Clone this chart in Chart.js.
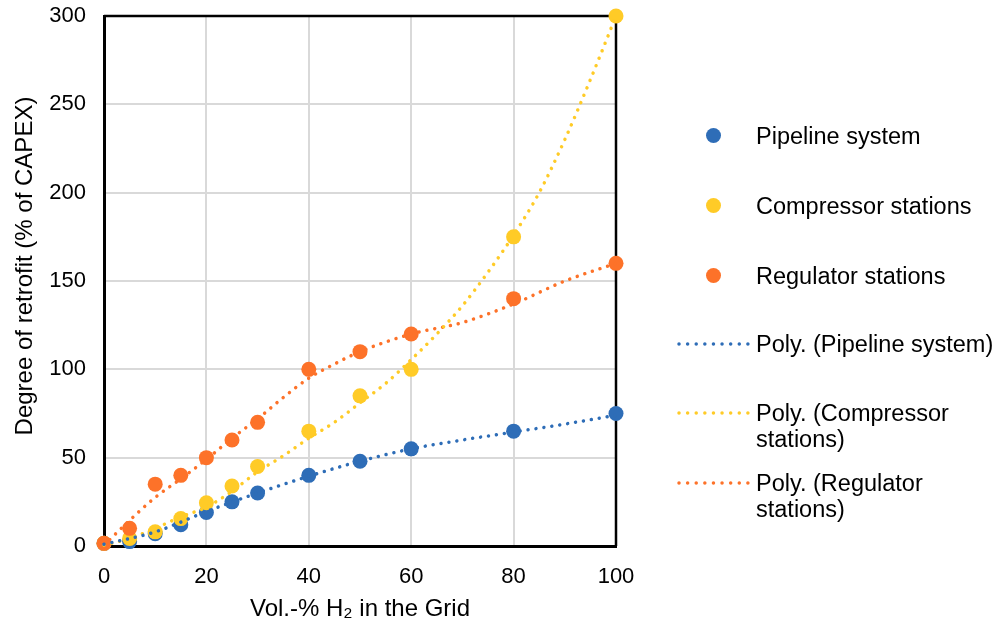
<!DOCTYPE html>
<html>
<head>
<meta charset="utf-8">
<title>Degree of retrofit vs. H2 share</title>
<script src="https://cdn.jsdelivr.net/npm/chart.js@4.4.1/dist/chart.umd.min.js"></script>
<style>
  body { margin: 0; background: #fff; }
  #wrap { position: relative; width: 1000px; height: 626px; }
  #legend { position: absolute; left: 0; top: 0; font-family: "Liberation Sans", Arial, sans-serif; font-size: 23.5px; color: #000; }
  .item { position: absolute; left: 676px; width: 324px; line-height: 26px; }
  .item .dot { position: absolute; left: 30px; top: 5px; width: 15px; height: 15px; border-radius: 50%; }
  .item svg { position: absolute; left: 0; top: 0; }
  .item .txt { position: absolute; left: 80px; top: 0; width: 244px; }
  #ytitle { position: absolute; left: -176px; top: 251px; width: 400px; height: 30px; line-height: 30px;
            text-align: center; transform: rotate(-90deg); white-space: nowrap;
            font-family: "Liberation Sans", Arial, sans-serif; font-size: 24px; color: #000; }
</style>
</head>
<body>
<div id="wrap">
  <canvas id="myChart" width="1000" height="626"></canvas>
  <div id="ytitle">Degree of retrofit (% of CAPEX)</div>
  <div id="legend"></div>
</div>
<script>
// measured values, x = vol.-% H2
var xValues = [0, 5, 10, 15, 20, 25, 30, 40, 50, 60, 80, 100];
var pipeline = [1.5, 2.5, 7, 12, 19, 25, 30, 40, 48, 55, 65, 75];
var compressor = [1.5, 4.3, 8, 15.5, 24.5, 34, 45, 65, 85, 100, 175, 300];
var regulator = [1.5, 10, 35, 40, 50, 60, 70, 100, 110, 120, 140, 160];

// polynomial trendlines
var pipelineTrendX = [0, 10, 20, 30, 40, 50, 60, 70, 80, 90, 100];
var pipelineTrend = [1, 8, 19.5, 30, 39.5, 48, 55, 60, 64.5, 69, 74];
var compressorTrendX = [0, 5, 10, 15, 20, 25, 30, 35, 40, 45, 50, 55, 60, 65, 70, 75, 80, 85, 90, 95, 100];
var compressorTrend = [0.5, 4.3, 10, 16.5, 22, 31, 42, 51, 61, 70, 81, 92, 105.5, 120, 136, 155, 176, 200, 230, 264, 300];
var regulatorTrendX = [0, 5, 10, 15, 20, 25, 30, 35, 40, 45, 50, 60, 70, 80, 90, 100];
var regulatorTrend = [0.5, 14.5, 27.5, 38, 49, 61, 72, 84, 95, 103, 110, 120, 126.5, 137, 150, 160];

var seriesNames = ["Pipeline system", "Compressor stations", "Regulator stations"];
var seriesColors = ["#2e6db7", "#ffcb27", "#fd7229"];
var yTicks = [0, 50, 100, 150, 200, 250, 300];
var xTicks = [0, 20, 40, 60, 80, 100];

function pts(xs, ys) {
  return xs.map(function (x, i) { return { x: x, y: ys[i] }; });
}

var values = [pipeline, compressor, regulator];
var trendX = [pipelineTrendX, compressorTrendX, regulatorTrendX];
var trendY = [pipelineTrend, compressorTrend, regulatorTrend];

var datasets = [];
for (var i = 0; i < 3; i++) {
  datasets.push({
    label: seriesNames[i],
    data: pts(xValues, values[i]),
    showLine: false,
    pointRadius: 7.5,
    pointHoverRadius: 7.5,
    pointBorderWidth: 0,
    backgroundColor: seriesColors[i],
    borderColor: seriesColors[i],
    clip: false,
    order: 3 - i + 1
  });
}
for (var j = 0; j < 3; j++) {
  datasets.push({
    label: "Poly. (" + seriesNames[j] + ")",
    data: pts(trendX[j], trendY[j]),
    showLine: true,
    pointRadius: 0,
    borderColor: seriesColors[j],
    borderWidth: 3.5,
    borderDash: [0.01, 8],
    borderCapStyle: "round",
    cubicInterpolationMode: "monotone",
    fill: false,
    clip: false,
    order: 0
  });
}

// top and right edges of the plot frame
var frame = {
  id: "frame",
  beforeDatasetsDraw: function (chart) {
    var a = chart.chartArea, ctx = chart.ctx;
    ctx.save();
    ctx.strokeStyle = "#000";
    ctx.lineWidth = 2.5;
    ctx.beginPath();
    ctx.moveTo(a.left, a.top);
    ctx.lineTo(a.right, a.top);
    ctx.lineTo(a.right, a.bottom);
    ctx.stroke();
    ctx.restore();
  }
};

var tickFont = { family: "'Liberation Sans', Arial, sans-serif", size: 22 };
var titleFont = { family: "'Liberation Sans', Arial, sans-serif", size: 24 };

new Chart("myChart", {
  type: "scatter",
  data: { datasets: datasets },
  plugins: [frame],
  options: {
    responsive: false,
    animation: false,
    layout: { padding: { left: 0, right: 384, top: 16, bottom: 0 } },
    plugins: { legend: { display: false }, tooltip: { enabled: false } },
    scales: {
      x: {
        type: "linear",
        min: 0, max: 100,
        afterFit: function (s) { s.height = 80; },
        afterBuildTicks: function (s) { s.ticks = xTicks.map(function (v) { return { value: v }; }); },
        grid: { color: "#d9d9d9", lineWidth: 2, drawTicks: false },
        border: { display: true, color: "#000", width: 3 },
        ticks: { font: tickFont, color: "#000", padding: 18 },
        title: { display: true, text: "Vol.-% H\u2082 in the Grid", font: titleFont, color: "#000", padding: { top: 0, bottom: 2 } }
      },
      y: {
        type: "linear",
        min: 0, max: 300,
        afterFit: function (s) { s.width = 104; s.paddingTop = 12; s.paddingBottom = 12; },
        afterBuildTicks: function (s) { s.ticks = yTicks.map(function (v) { return { value: v }; }); },
        grid: { color: "#d9d9d9", lineWidth: 2, drawTicks: false },
        border: { display: true, color: "#000", width: 3 },
        ticks: { font: tickFont, color: "#000", padding: 18 }
      }
    }
  }
});

// legend to the right of the plot
var legendRows = [136, 206, 276, 344, 413, 483];
var legend = document.getElementById("legend");
for (var k = 0; k < 6; k++) {
  var idx = k % 3;
  var item = document.createElement("div");
  item.className = "item";
  item.style.top = (legendRows[k] - 13) + "px";
  var sym;
  if (k < 3) {
    sym = '<span class="dot" style="background:' + seriesColors[idx] + '"></span>';
  } else {
    sym = '<svg width="76" height="26"><line x1="3" y1="13" x2="72" y2="13" stroke="' + seriesColors[idx] +
      '" stroke-width="3.5" stroke-linecap="round" stroke-dasharray="0.01 8.6"/></svg>';
  }
  var label = k < 3 ? seriesNames[idx] : "Poly. (" + seriesNames[idx] + ")";
  item.innerHTML = sym + '<span class="txt">' + label + '</span>';
  legend.appendChild(item);
}
</script>
</body>
</html>
